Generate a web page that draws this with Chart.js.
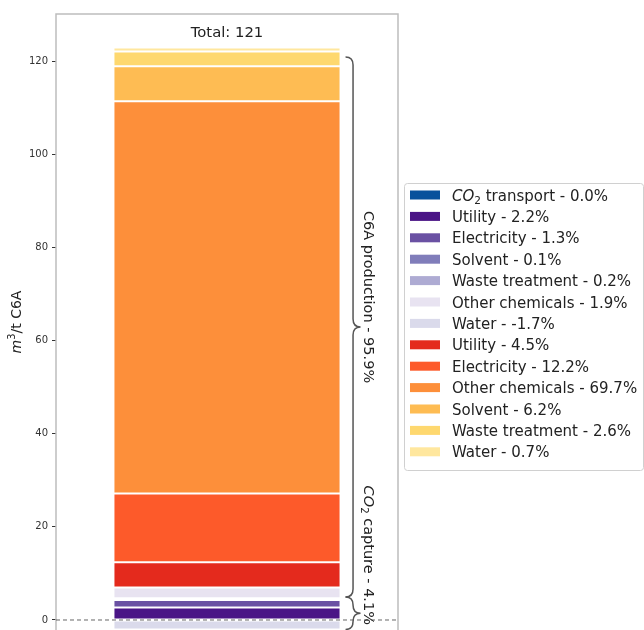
<!DOCTYPE html>
<html>
<head>
<meta charset="utf-8">
<title>C6A water use</title>
<script src="https://cdn.jsdelivr.net/npm/chart.js"></script>
<style>
  html, body { margin: 0; padding: 0; background: #fff; }
  #wrap { width: 644px; height: 630px; }
</style>
</head>
<body>
<div id="wrap"><canvas id="chart"></canvas></div>
<script>
// CO2 capture stages (bottom of the bar)
const co2Names = ["CO2 transport", "Utility", "Electricity", "Solvent", "Waste treatment", "Other chemicals", "Water"];
const co2Values = [0, 2.68, 1.6, 0.12, 0.24, 2.32, -2.04];
const co2Colors = ["#08519c", "#4a1486", "#6a51a3", "#807dba", "#aeabd3", "#e8e3f1", "#dadaeb"];

// C6A production stages (stacked on top)
const c6aNames = ["Utility", "Electricity", "Other chemicals", "Solvent", "Waste treatment", "Water"];
const c6aValues = [5.46, 14.74, 84.2, 7.5, 3.17, 0.88];
const c6aColors = ["#e42a1d", "#fd5a2a", "#fd8f3a", "#febc53", "#fed86f", "#ffe79e"];

const groupNames = ["CO2 capture", "C6A production"];
const groupPct = [4.1, 95.9];
const yTicks = [0, 20, 40, 60, 80, 100, 120];

const FONT = "'DejaVu Sans', sans-serif";
const names = co2Names.concat(c6aNames);
const values = co2Values.concat(c6aValues);
const colors = co2Colors.concat(c6aColors);
const total = values.reduce((a, b) => a + b, 0);
const co2Sum = co2Values.reduce((a, b) => a + b, 0);
const co2Neg = co2Values.filter(v => v < 0).reduce((a, b) => a + b, 0);
const c6aSum = c6aValues.reduce((a, b) => a + b, 0);

// split "CO2" into italic CO + subscript 2
function segs(text) {
  const out = [];
  text.split(/(CO2)/).forEach(p => {
    if (p === "CO2") { out.push({t: "CO", style: "italic"}); out.push({t: "2", pos: "sub"}); }
    else if (p) out.push({t: p});
  });
  return out;
}

function drawRich(ctx, parts, x, y, size, align) {
  const fontOf = p => (p.style || "normal") + " " + (p.pos ? size * 0.7 : size) + "px " + FONT;
  let w = 0;
  parts.forEach(p => { ctx.font = fontOf(p); p.w = ctx.measureText(p.t).width; w += p.w; });
  let cx = align === "center" ? x - w / 2 : x;
  ctx.textAlign = "left";
  ctx.textBaseline = "alphabetic";
  parts.forEach(p => {
    ctx.font = fontOf(p);
    const dy = p.pos === "sub" ? size * 0.2 : p.pos === "sup" ? -size * 0.42 : 0;
    ctx.fillText(p.t, cx, y + dy);
    cx += p.w;
  });
}

function brace(ctx, x, yTop, yBot, depth) {
  const ym = (yTop + yBot) / 2;
  const r = Math.min(8, (yBot - yTop) / 4);
  const xl = x + depth / 2, xt = x + depth;
  ctx.beginPath();
  ctx.moveTo(x, yTop);
  ctx.quadraticCurveTo(xl, yTop, xl, yTop + r);
  ctx.lineTo(xl, ym - r);
  ctx.quadraticCurveTo(xl, ym, xt, ym);
  ctx.quadraticCurveTo(xl, ym, xl, ym + r);
  ctx.lineTo(xl, yBot - r);
  ctx.quadraticCurveTo(xl, yBot, x, yBot);
  ctx.stroke();
}

const extras = {
  id: "extras",
  afterDatasetsDraw(chart) {
    const ctx = chart.ctx;
    const area = chart.chartArea;
    const y = chart.scales.y;
    const bar = chart.getDatasetMeta(1).data[0];
    const barRight = bar.x + bar.width / 2;
    ctx.save();

    // frame
    ctx.strokeStyle = "#bdbdbd";
    ctx.lineWidth = 1.5;
    ctx.beginPath();
    ctx.moveTo(area.left, area.bottom + 2);
    ctx.lineTo(area.left, area.top);
    ctx.lineTo(area.right, area.top);
    ctx.lineTo(area.right, area.bottom + 2);
    ctx.stroke();

    // zero line
    const y0 = y.getPixelForValue(0);
    ctx.strokeStyle = "#666";
    ctx.lineWidth = 1;
    ctx.setLineDash([4, 3]);
    ctx.beginPath();
    ctx.moveTo(area.left, y0);
    ctx.lineTo(area.right, y0);
    ctx.stroke();
    ctx.setLineDash([]);

    // braces and group labels
    const spans = [[co2Neg, co2Sum], [co2Sum, co2Sum + c6aSum]];
    const labelShift = [-58, -30];
    ctx.strokeStyle = "#555";
    ctx.lineWidth = 1.5;
    ctx.fillStyle = "#222";
    spans.forEach((s, i) => {
      const top = y.getPixelForValue(s[1]);
      const bot = y.getPixelForValue(s[0]);
      brace(ctx, barRight + 5, top, bot, 15);
      ctx.save();
      ctx.translate(barRight + 29, (top + bot) / 2 + labelShift[i]);
      ctx.rotate(Math.PI / 2);
      drawRich(ctx, segs(groupNames[i] + " - " + groupPct[i].toFixed(1) + "%"), 0, 14.5 * 0.36, 14.5, "center");
      ctx.restore();
    });

    // title
    ctx.fillStyle = "#222";
    drawRich(ctx, [{t: "Total: " + Math.round(total)}], (area.left + area.right) / 2, 37, 14.8, "center");

    // y axis title
    ctx.save();
    ctx.translate(21, (area.top + area.bottom) / 2);
    ctx.rotate(-Math.PI / 2);
    drawRich(ctx, [{t: "m", style: "italic"}, {t: "3", pos: "sup"}, {t: "/t C6A"}], 0, 0, 14, "center");
    ctx.restore();

    // legend
    const lx = 404, ly = 183, lw = 239, lh = 287, step = 21.4;
    ctx.fillStyle = "rgba(255,255,255,0.85)";
    ctx.strokeStyle = "#d0d0d0";
    ctx.lineWidth = 1;
    ctx.beginPath();
    ctx.roundRect(lx + 0.5, ly + 0.5, lw, lh, 3);
    ctx.fill();
    ctx.stroke();
    names.forEach((n, i) => {
      const ry = ly + 12 + i * step;
      ctx.fillStyle = colors[i];
      ctx.fillRect(lx + 6, ry - 4.5, 30, 9);
      ctx.fillStyle = "#222";
      const pct = values[i] / total * 100;
      drawRich(ctx, segs(n + " - " + pct.toFixed(1) + "%"), lx + 48, ry + 5.5, 15, "left");
    });

    ctx.restore();
  }
};

const datasets = names.map((n, i) => ({
  label: n,
  data: [values[i]],
  backgroundColor: colors[i],
  borderColor: "#ffffff",
  borderWidth: 1,
  borderSkipped: false
}));

new Chart(document.getElementById("chart"), {
  type: "bar",
  data: { labels: ["C6A"], datasets: datasets },
  options: {
    responsive: true,
    maintainAspectRatio: false,
    animation: false,
    datasets: { bar: { barPercentage: 0.664, categoryPercentage: 1 } },
    layout: { padding: { top: 14, right: 246, bottom: 0, left: 0 } },
    plugins: { legend: { display: false }, tooltip: { enabled: false } },
    scales: {
      x: { stacked: true, display: false },
      y: {
        stacked: true,
        min: -2.15,
        max: 130.1,
        afterBuildTicks: s => { s.ticks = yTicks.map(v => ({ value: v })); },
        afterFit: s => { s.width = 56; s.paddingTop = 0; s.paddingBottom = 0; },
        ticks: { font: { family: FONT, size: 10 }, color: "#333", padding: 4 },
        grid: { drawOnChartArea: false, tickLength: 4, tickColor: "#333" },
        border: { display: false }
      }
    }
  },
  plugins: [extras]
});
</script>
</body>
</html>
